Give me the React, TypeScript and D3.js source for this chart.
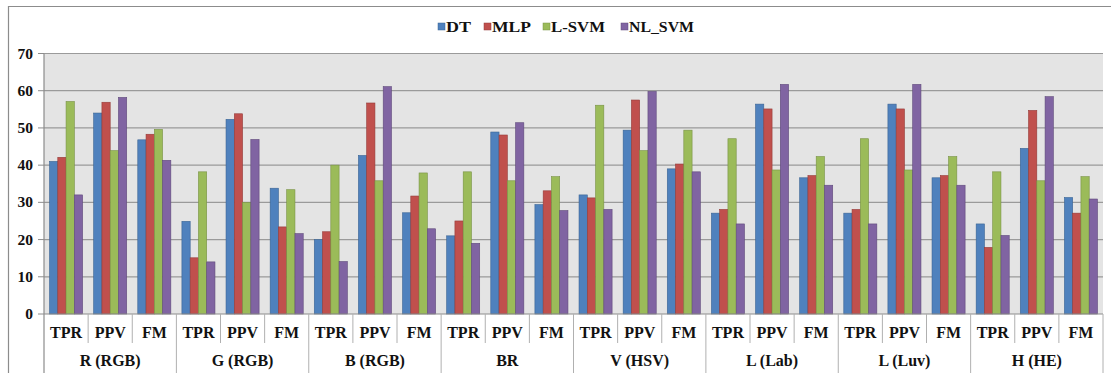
import React from "react";
import * as d3 from "d3";

const groups = ["R (RGB)", "G (RGB)", "B (RGB)", "BR", "V (HSV)", "L (Lab)", "L (Luv)", "H (HE)"];
const metrics = ["TPR", "PPV", "FM"];
const seriesNames = ["DT", "MLP", "L-SVM", "NL_SVM"];
const colors = ["#4f81bd", "#c0504d", "#9bbb59", "#8064a2"];
const strokes = ["#3a6494", "#953b38", "#789244", "#5f4a7b"];
const yTicks = [0, 10, 20, 30, 40, 50, 60, 70];

// values per subcategory (group x metric), in order
const DT = [41.0, 54.0, 46.8, 24.9, 52.3, 33.8, 20.0, 42.6, 27.2, 21.0, 48.9, 29.4, 32.0, 49.4, 39.0, 27.1, 56.4, 36.6, 27.1, 56.4, 36.6, 24.2, 44.5, 31.3];
const MLP = [42.1, 56.9, 48.3, 15.1, 53.8, 23.4, 22.1, 56.7, 31.7, 25.0, 48.1, 33.1, 31.2, 57.5, 40.3, 28.1, 55.1, 37.2, 28.1, 55.1, 37.2, 17.9, 54.7, 27.1];
const LSVM = [57.1, 43.9, 49.6, 38.2, 30.0, 33.4, 40.0, 35.8, 37.9, 38.2, 35.8, 36.9, 56.1, 43.9, 49.4, 47.1, 38.7, 42.3, 47.1, 38.7, 42.3, 38.2, 35.8, 36.9];
const NLSVM = [32.0, 58.2, 41.3, 14.0, 46.9, 21.6, 14.1, 61.1, 22.9, 19.0, 51.4, 27.8, 28.1, 59.8, 38.2, 24.2, 61.7, 34.6, 24.2, 61.7, 34.6, 21.1, 58.4, 30.9];
const seriesValues = [DT, MLP, LSVM, NLSVM];

const W = 1111;
const H = 373;
const left = 44;
const right = 1103;
const top = 53.5;
const bottom = 314;
const FF = "Liberation Serif";

export default function App() {
  const keys: string[] = [];
  groups.forEach((g, gi) => metrics.forEach((m, mi) => keys.push(gi + "-" + mi)));
  const x = d3.scaleBand<string>().domain(keys).range([left, right]).paddingInner(0).paddingOuter(0);
  const xs = d3.scaleBand<string>().domain(seriesNames).range([0, x.bandwidth()]).paddingInner(0).paddingOuter(0.67);
  const y = d3.scaleLinear().domain([0, 70]).range([bottom, top]);
  const gw = x.step() * metrics.length;

  const legendX = [438, 484, 543, 621];
  const legendW = [25, 39, 54, 65];

  return (
    <svg width={W} height={H} style={{ position: "absolute", left: 0, top: 0, background: "#fff" }}>
      {/* outer border */}
      <line x1={8} y1={6.5} x2={W} y2={6.5} stroke="#8c8c8c" strokeWidth={1.2} />
      <line x1={8.5} y1={6} x2={8.5} y2={H} stroke="#8c8c8c" strokeWidth={1.2} />

      {/* legend */}
      {seriesNames.map((s, i) => (
        <g key={s}>
          <rect x={legendX[i]} y={23} width={7} height={7} fill={colors[i]} stroke={strokes[i]} strokeWidth={0.5} />
          <text x={legendX[i] + 8} y={32} fontSize={15} fontFamily={FF} fontWeight="bold" fill="#111"
            textLength={legendW[i]} lengthAdjust="spacingAndGlyphs">{s}</text>
        </g>
      ))}

      {/* plot background */}
      <rect x={left} y={top} width={right - left} height={bottom - top} fill="#e4e4e4" />
      {yTicks.map((t) => (
        <g key={t}>
          {t > 0 && <line x1={left} x2={right} y1={y(t)} y2={y(t)} stroke="#9a9a9a" strokeWidth={1.2} />}
          <line x1={38} x2={left} y1={y(t)} y2={y(t)} stroke="#8c8c8c" strokeWidth={1} />
          <text x={33} y={y(t) + 5} textAnchor="end" fontSize={15.5} fontFamily={FF} fontWeight="bold" fill="#111">{t}</text>
        </g>
      ))}

      {/* bars */}
      {keys.map((k, ki) => (
        <g key={k} transform={`translate(${x(k)},0)`}>
          {seriesNames.map((s, si) => {
            const v = seriesValues[si][ki];
            return (
              <rect key={s} x={xs(s)} y={y(v)} width={xs.bandwidth()} height={y(0) - y(v)} fill={colors[si]} stroke={strokes[si]} strokeWidth={0.6} />
            );
          })}
        </g>
      ))}

      {/* axes */}
      <line x1={left} x2={left} y1={top} y2={H} stroke="#8c8c8c" strokeWidth={1.2} />
      <line x1={left} x2={right} y1={bottom} y2={bottom} stroke="#8c8c8c" strokeWidth={1.2} />

      {/* category separators & labels */}
      {keys.map((k, ki) => {
        const x0 = x(k)!;
        const mi = ki % metrics.length;
        return (
          <g key={"l" + k}>
            {mi > 0 && <line x1={x0} x2={x0} y1={bottom} y2={343} stroke="#b0b0b0" strokeWidth={1} />}
            <text x={x0 + x.bandwidth() / 2} y={338} textAnchor="middle" fontSize={16} fontFamily={FF} fontWeight="bold" fill="#111">{metrics[mi]}</text>
          </g>
        );
      })}
      {groups.map((g, gi) => {
        const x0 = left + gi * gw;
        return (
          <g key={g}>
            <line x1={x0 + gw} x2={x0 + gw} y1={bottom} y2={H} stroke="#b0b0b0" strokeWidth={1} />
            <text x={x0 + gw / 2} y={366} textAnchor="middle" fontSize={16} fontFamily={FF} fontWeight="bold" fill="#111">{g}</text>
          </g>
        );
      })}
    </svg>
  );
}
